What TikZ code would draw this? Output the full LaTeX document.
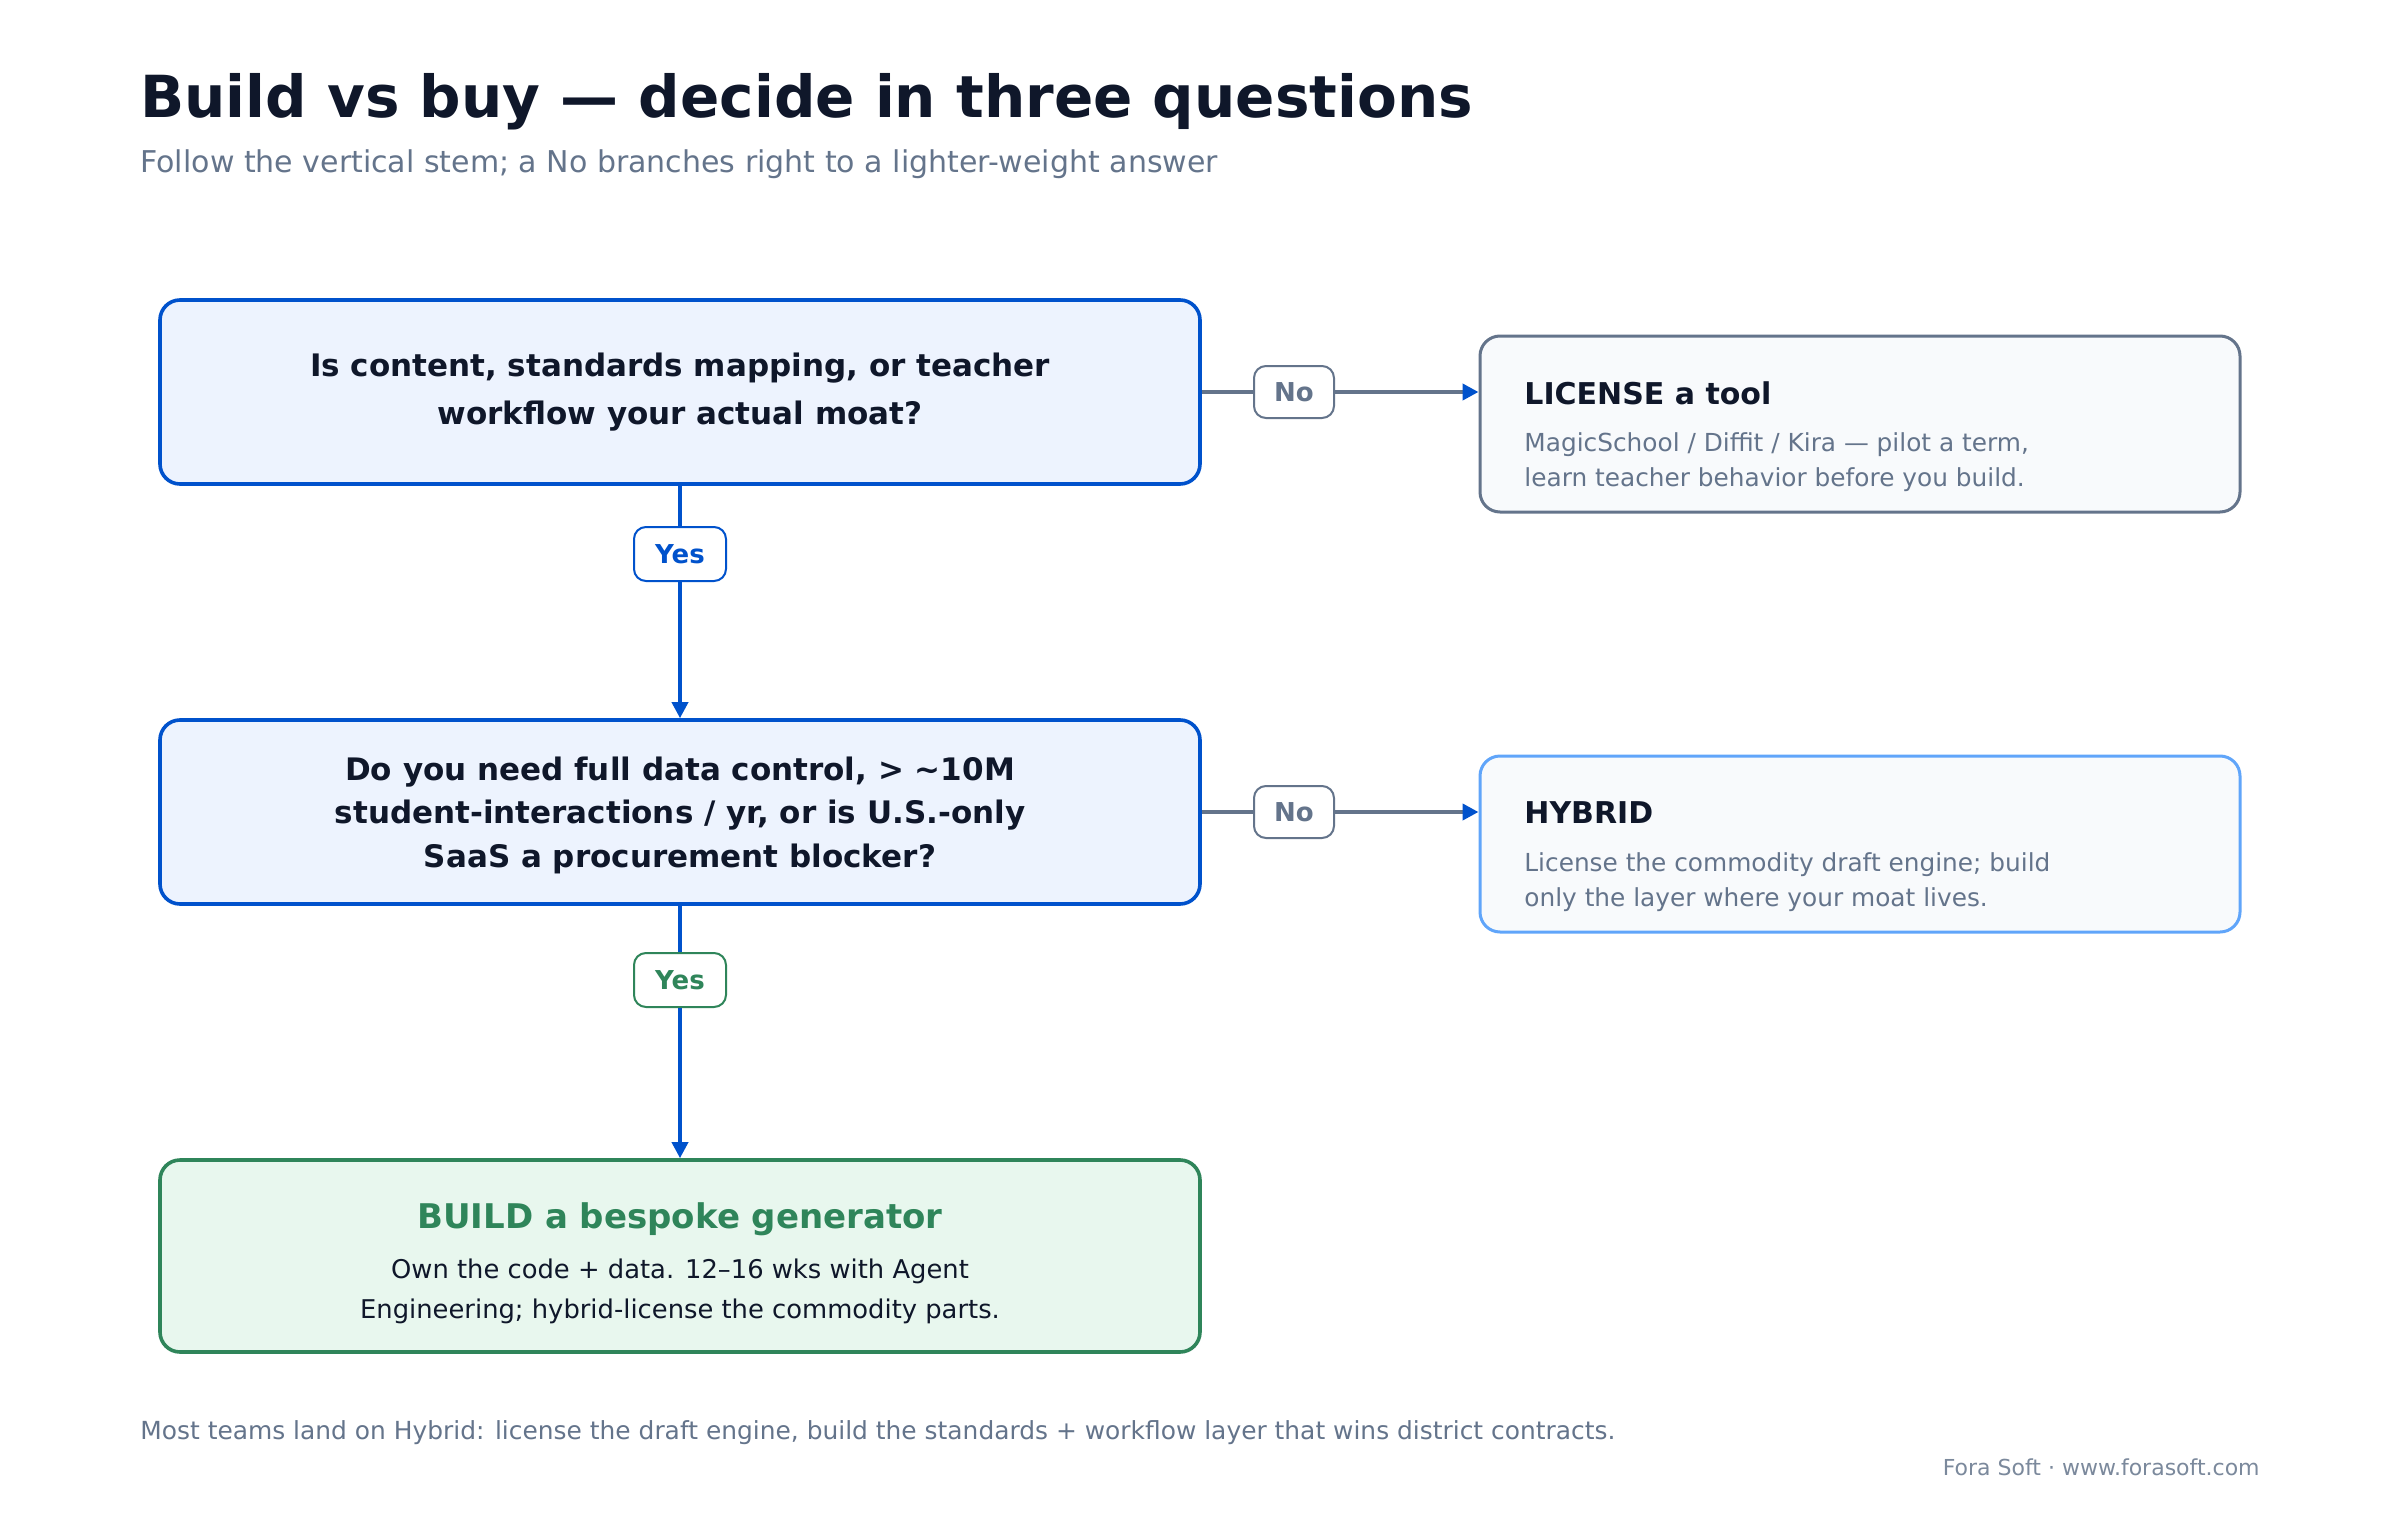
\documentclass[tikz,border=0pt]{standalone}
\usepackage{fontspec}
\setmainfont{DejaVu Sans}
\usetikzlibrary{arrows.meta}
\definecolor{ink}{HTML}{0F172A}
\definecolor{slate}{HTML}{64748B}
\definecolor{accent}{HTML}{0052CC}
\definecolor{qfill}{HTML}{EDF3FE}
\definecolor{okgreen}{HTML}{2F855A}
\definecolor{okfill}{HTML}{E8F7EE}
\definecolor{softfill}{HTML}{F8FAFC}
\definecolor{skyline}{HTML}{60A5FA}
\newcommand{\fs}[2]{\fontsize{#1}{#2}\selectfont}
\begin{document}
\begin{tikzpicture}[x=1pt,y=-1pt,
  qbox/.style={draw=accent, line width=1.8pt, fill=qfill, rounded corners=10pt,
    minimum width=520pt, minimum height=92pt, inner sep=0pt},
  buildbox/.style={draw=okgreen, line width=1.8pt, fill=okfill, rounded corners=10pt,
    minimum width=520pt, minimum height=96pt, inner sep=0pt},
  ansbox/.style={line width=1.5pt, fill=softfill, rounded corners=10pt,
    minimum width=380pt, minimum height=88pt, inner sep=0pt},
  tag/.style={rounded corners=6pt, fill=white, line width=1pt, inner sep=0pt,
    font=\bfseries\fs{13}{13}},
  yestag/.style={tag, minimum width=46pt, minimum height=27pt},
  notag/.style={tag, draw=slate, text=slate, minimum width=40pt, minimum height=26pt},
  qtext/.style={anchor=base, inner sep=0pt, text=ink, font=\bfseries\fs{15.5}{24}},
  anstitle/.style={anchor=base west, inner sep=0pt, text=ink, font=\bfseries\fs{15}{18}},
  ansbody/.style={anchor=base west, inner sep=0pt, text=slate, font=\fs{12.4}{17.5}},
  stem/.style={draw=accent, line width=1.8pt},
  branch/.style={draw=slate, line width=2pt},
  tip/.style={-{Triangle[length=8pt,width=8pt,color=accent]}}
]
\useasboundingbox[fill=white] (0,0) rectangle (1200,760);

% header
\node[anchor=base west, inner sep=0pt, text=ink, font=\bfseries\fs{29}{34}] (title) at (70,59)
  {Build vs buy — decide in three questions};
\node[anchor=base west, inner sep=0pt, text=slate, font=\fs{15}{18}] (subtitle) at (70,86)
  {Follow the vertical stem; a No branches right to a lighter-weight answer};

% question 1
\node[qbox] (q1) at (340,196) {};
\node[qtext] (q1t) at (340,188)
  {\begin{tabular}[t]{@{}c@{}}Is content, standards mapping, or teacher\\workflow your actual moat?\end{tabular}};

% question 2
\node[qbox] (q2) at (340,406) {};
\node[qtext, font=\bfseries\fs{15.5}{21.8}] (q2t) at (340,390)
  {\begin{tabular}[t]{@{}c@{}}Do you need full data control, > \textasciitilde10M\\student-interactions / yr, or is U.S.-only\\SaaS a procurement blocker?\end{tabular}};

% build
\node[buildbox] (build) at (340,628) {};
\node[anchor=base, inner sep=0pt, text=okgreen, font=\bfseries\fs{17}{20}] (buildt) at (340,614)
  {BUILD a bespoke generator};
\node[anchor=base, inner sep=0pt, text=ink, font=\fs{12.9}{20}] (buildb) at (340,639)
  {\begin{tabular}[t]{@{}c@{}}Own the code + data. 12–16 wks with Agent\\Engineering; hybrid-license the commodity parts.\end{tabular}};

% license
\node[ansbox, draw=slate] (lic) at (930,212) {};
\node[anstitle] (lict) at (762,202) {LICENSE a tool};
\node[ansbody] (licb) at (762,225.8)
  {\begin{tabular}[t]{@{}l@{}}MagicSchool / Diffit / Kira — pilot a term,\\learn teacher behavior before you build.\end{tabular}};

% hybrid
\node[ansbox, draw=skyline] (hyb) at (930,422) {};
\node[anstitle] (hybt) at (762,411.7) {HYBRID};
\node[ansbody] (hybb) at (762,435.8)
  {\begin{tabular}[t]{@{}l@{}}License the commodity draft engine; build\\only the layer where your moat lives.\end{tabular}};

% tags
\node[yestag, draw=accent, text=accent] (yes1) at (340,277) {Yes};
\node[yestag, draw=okgreen, text=okgreen] (yes2) at (340,490) {Yes};
\node[notag] (no1) at (647,196) {No};
\node[notag] (no2) at (647,406) {No};

% connectors
\draw[stem] (q1.south) -- (yes1.north);
\draw[stem, tip] (yes1.south) -- (q2.north);
\draw[stem] (q2.south) -- (yes2.north);
\draw[stem, tip] (yes2.south) -- (build.north);
\draw[branch] (q1.east) -- (no1.west);
\draw[branch, tip] (no1.east) -- (no1.east -| lic.west);
\draw[branch] (q2.east) -- (no2.west);
\draw[branch, tip] (no2.east) -- (no2.east -| hyb.west);

% footer
\node[anchor=base west, inner sep=0pt, text=slate, font=\fs{12.45}{14}] (note) at (70,719.5)
  {Most teams land on Hybrid: license the draft engine, build the standards + workflow layer that wins district contracts.};
\node[anchor=base east, inner sep=0pt, text=slate!85, font=\fs{11}{13}] (credit) at (1130,737.5)
  {Fora Soft · www.forasoft.com};
\end{tikzpicture}
\end{document}
